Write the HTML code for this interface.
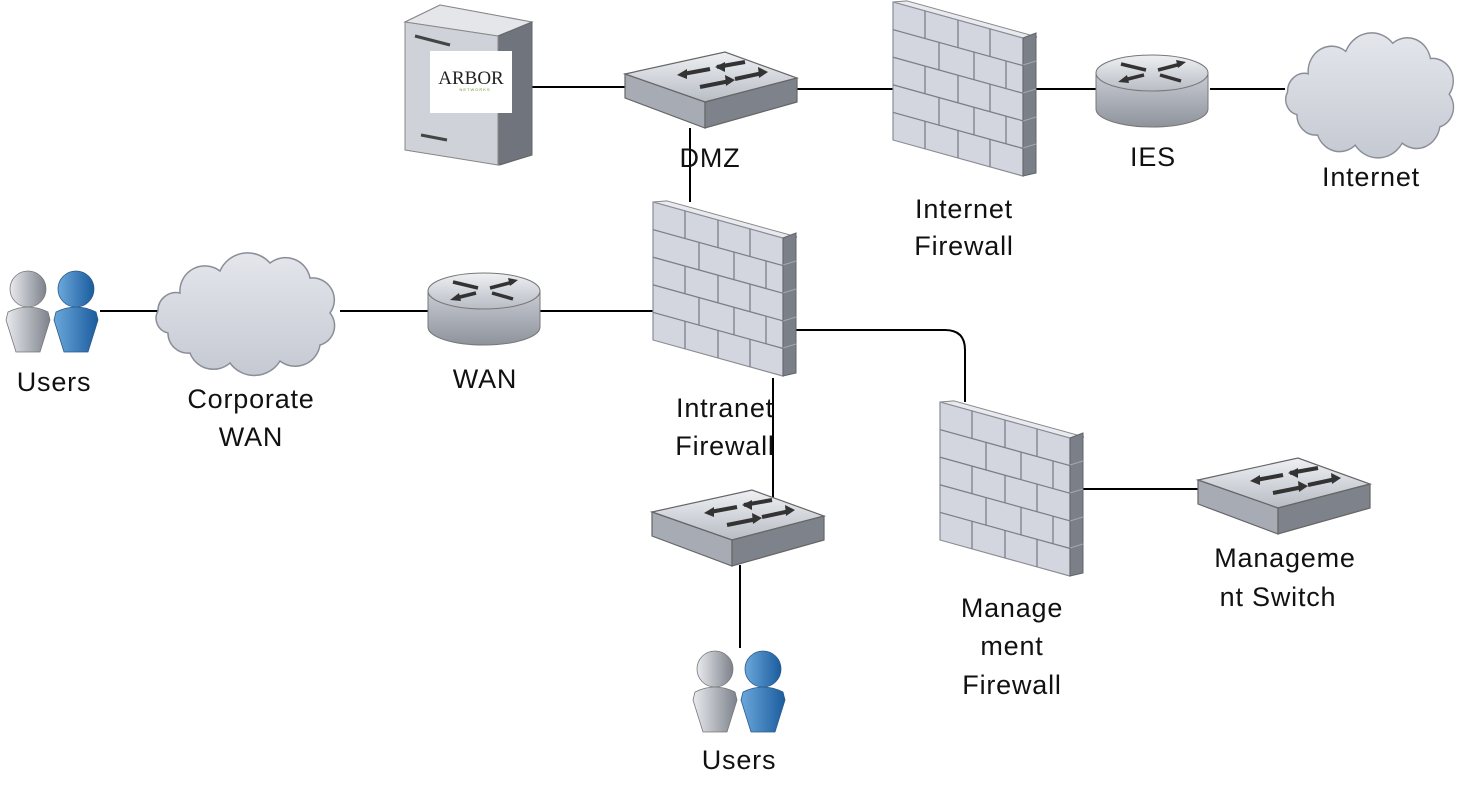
<!DOCTYPE html>
<html><head><meta charset="utf-8"><style>
html,body{margin:0;padding:0;background:#fff;}
svg{display:block}
text{font-family:"Liberation Sans",sans-serif;font-size:27px;letter-spacing:0.8px;fill:#111;text-anchor:middle}
</style></head><body>
<svg width="1463" height="794" viewBox="0 0 1463 794" xmlns="http://www.w3.org/2000/svg">
<defs>
<linearGradient id="gBody" x1="0" y1="0" x2="0" y2="1"><stop offset="0" stop-color="#c9ccd3"/><stop offset="1" stop-color="#8e939c"/></linearGradient>
<linearGradient id="gTop" x1="0" y1="0" x2="0" y2="1"><stop offset="0" stop-color="#eef0f3"/><stop offset="1" stop-color="#b8bcc4"/></linearGradient>
<linearGradient id="gCloud" x1="0" y1="0" x2="0" y2="1"><stop offset="0" stop-color="#e4e6ec"/><stop offset="1" stop-color="#c5c9d2"/></linearGradient>
<linearGradient id="gGray" x1="0" y1="0" x2="1" y2="0"><stop offset="0" stop-color="#e8eaee"/><stop offset="1" stop-color="#7d828b"/></linearGradient>
<linearGradient id="gBlue" x1="0" y1="0" x2="1" y2="0"><stop offset="0" stop-color="#6aa7db"/><stop offset="1" stop-color="#1b5c9e"/></linearGradient>
<linearGradient id="gSrv" x1="0" y1="0" x2="1" y2="0"><stop offset="0" stop-color="#d8dadf"/><stop offset="1" stop-color="#a9adb5"/></linearGradient>

<g id="fw">
  <g transform="skewY(15.5)">
    <polygon points="0,0 14,-5 144,-5 130,0" fill="#e8eaef" stroke="#888" stroke-width="1"/>
    <rect x="0" y="0" width="130" height="138" fill="#d3d6de" stroke="#8a8d95" stroke-width="1.2"/>
    <g stroke="#7b7f88" stroke-width="1.3" fill="none">
      <line x1="0" y1="27.6" x2="130" y2="27.6"/><line x1="0" y1="55.2" x2="130" y2="55.2"/>
      <line x1="0" y1="82.8" x2="130" y2="82.8"/><line x1="0" y1="110.4" x2="130" y2="110.4"/>
      <line x1="32" y1="0" x2="32" y2="27.6"/><line x1="65" y1="0" x2="65" y2="27.6"/><line x1="97" y1="0" x2="97" y2="27.6"/>
      <line x1="46" y1="27.6" x2="46" y2="55.2"/><line x1="81" y1="27.6" x2="81" y2="55.2"/><line x1="113" y1="27.6" x2="113" y2="55.2"/>
      <line x1="32" y1="55.2" x2="32" y2="82.8"/><line x1="65" y1="55.2" x2="65" y2="82.8"/><line x1="97" y1="55.2" x2="97" y2="82.8"/>
      <line x1="46" y1="82.8" x2="46" y2="110.4"/><line x1="81" y1="82.8" x2="81" y2="110.4"/><line x1="113" y1="82.8" x2="113" y2="110.4"/>
      <line x1="32" y1="110.4" x2="32" y2="138"/><line x1="65" y1="110.4" x2="65" y2="138"/><line x1="97" y1="110.4" x2="97" y2="138"/>
    </g>
  </g>
  <polygon points="130,36 143,31 143,171 130,174" fill="#7a7f88" stroke="#5f636b" stroke-width="1"/>
  <g stroke="#a4a8b0" stroke-width="1"><line x1="130" y1="63" x2="143" y2="59"/><line x1="130" y1="91" x2="143" y2="87"/><line x1="130" y1="119" x2="143" y2="115"/><line x1="130" y1="146" x2="143" y2="142"/></g>
</g>

<g id="sw">
  <polygon points="0,22 100,0 172,26 80,50" fill="url(#gTop)" stroke="#666" stroke-width="1.2"/>
  <polygon points="0,22 80,50 80,76 0,46" fill="#a7abb3" stroke="#666" stroke-width="1.2"/>
  <polygon points="80,50 172,26 172,50 80,76" fill="#7d828b" stroke="#666" stroke-width="1.2"/>
  <g stroke="#333" stroke-width="4" fill="#333">
    <line x1="58" y1="22" x2="85" y2="17"/><polygon points="52,23 62,17 62,27" stroke-width="0"/>
    <line x1="92" y1="15" x2="120" y2="10"/><polygon points="90,15 100,10 100,20" stroke-width="0"/>
    <line x1="75" y1="35" x2="105" y2="29"/><polygon points="110,28 100,23 101,34" stroke-width="0"/>
    <line x1="110" y1="27" x2="138" y2="21"/><polygon points="143,20 133,15 134,26" stroke-width="0"/>
  </g>
</g>

<g id="rt">
  <path d="M0,18 L0,54 A56,18 0 0 0 112,54 L112,18 Z" fill="url(#gBody)" stroke="#777" stroke-width="1"/>
  <ellipse cx="56" cy="18" rx="56" ry="18" fill="url(#gTop)" stroke="#777" stroke-width="1"/>
  <g stroke="#333" stroke-width="3.5" fill="#333">
    <line x1="25" y1="9" x2="50" y2="15"/><line x1="62" y1="15" x2="85" y2="9"/><polygon points="90,7 80,5 82,13" stroke-width="0"/>
    <line x1="28" y1="25" x2="48" y2="20"/><polygon points="22,27 31,20 33,28" stroke-width="0"/><line x1="64" y1="20" x2="85" y2="26"/>
  </g>
</g>

<path id="cloud" d="M30,40 A25,25 0 0 1 70,18 A30,30 0 0 1 120,10 A25,25 0 0 1 160,25 A22,22 0 0 1 180,60 A20,20 0 0 1 170,92 A25,25 0 0 1 130,108 A30,30 0 0 1 80,110 A25,25 0 0 1 40,100 A20,20 0 0 1 18,80 A15,15 0 0 1 8,58 A18,18 0 0 1 30,40 Z" fill="url(#gCloud)" stroke="#8a8e97" stroke-width="1.5"/>

<g id="users">
  <circle cx="22" cy="19" r="18" fill="url(#gGray)" stroke="#777" stroke-width="0.8"/>
  <path d="M2,42 Q22,32 42,42 L44,50 L34,82 L10,82 L0,50 Z" fill="url(#gGray)" stroke="#777" stroke-width="0.8"/>
  <circle cx="70" cy="19" r="18" fill="url(#gBlue)" stroke="#2a5a8a" stroke-width="0.8"/>
  <path d="M50,42 Q70,32 90,42 L92,50 L82,82 L58,82 L48,50 Z" fill="url(#gBlue)" stroke="#2a5a8a" stroke-width="0.8"/>
</g>
</defs>

<g stroke="#000" stroke-width="2" fill="none">
  <line x1="532" y1="87" x2="626" y2="87"/>
  <line x1="797" y1="89" x2="893" y2="89"/>
  <line x1="1035" y1="89" x2="1096" y2="89"/>
  <line x1="1210" y1="89" x2="1285" y2="89"/>
  <line x1="690" y1="128" x2="690" y2="202"/>
  <line x1="100" y1="311" x2="160" y2="311"/>
  <line x1="340" y1="311" x2="428" y2="311"/>
  <line x1="540" y1="311" x2="653" y2="311"/>
  <path d="M795,330 L945,330 Q965,330 965,350 L965,402"/>
  <line x1="773" y1="378" x2="773" y2="498"/>
  <line x1="740" y1="565" x2="740" y2="648"/>
  <line x1="1082" y1="489" x2="1198" y2="489"/>
</g>

<polygon points="405,22 440,5 532,22 532,155 500,165 405,150" fill="url(#gSrv)" stroke="#777"/>
<polygon points="405,22 440,5 532,22 498,36" fill="#e4e6ea" stroke="#888"/>
<polygon points="498,36 532,22 532,155 498,165" fill="#6f747d" stroke="#666"/>
<polygon points="405,22 498,36 498,165 405,150" fill="#cfd2d8" stroke="#888"/>
<line x1="415" y1="36" x2="450" y2="45" stroke="#444" stroke-width="3"/>
<line x1="421" y1="135" x2="447" y2="140" stroke="#444" stroke-width="3"/>
<rect x="430" y="51" width="82" height="62" fill="#fff"/>
<text x="471" y="84" style="font-family:'Liberation Serif',serif;font-size:19px;letter-spacing:0;fill:#222">ARBOR</text>
<text x="475" y="91" style="font-size:4px;fill:#6a9a2a;letter-spacing:1px">NETWORKS</text>

<use href="#sw" x="625" y="52"/>
<use href="#fw" x="893" y="2"/>
<use href="#rt" x="1096" y="55"/>
<use href="#cloud" transform="translate(1280,33) scale(0.94,1.02)"/>
<use href="#users" x="6" y="270"/>
<use href="#cloud" x="150" y="253"/>
<use href="#rt" x="428" y="273"/>
<use href="#fw" x="653" y="202"/>
<use href="#fw" x="940" y="402"/>
<use href="#sw" x="652" y="490"/>
<use href="#sw" x="1198" y="458"/>
<use href="#users" x="693" y="650"/>

<text x="710" y="167">DMZ</text>
<text x="1153" y="166">IES</text>
<text x="1371" y="186">Internet</text>
<text x="964" y="218">Internet</text>
<text x="964" y="255">Firewall</text>
<text x="54" y="391">Users</text>
<text x="251" y="408">Corporate</text>
<text x="251" y="446">WAN</text>
<text x="485" y="388">WAN</text>
<text x="725" y="417">Intranet</text>
<text x="725" y="455">Firewall</text>
<text x="1285" y="567">Manageme</text>
<text x="1278" y="606">nt Switch</text>
<text x="1012" y="617">Manage</text>
<text x="1012" y="655">ment</text>
<text x="1012" y="694">Firewall</text>
<text x="739" y="769">Users</text>
</svg>
</body></html>
